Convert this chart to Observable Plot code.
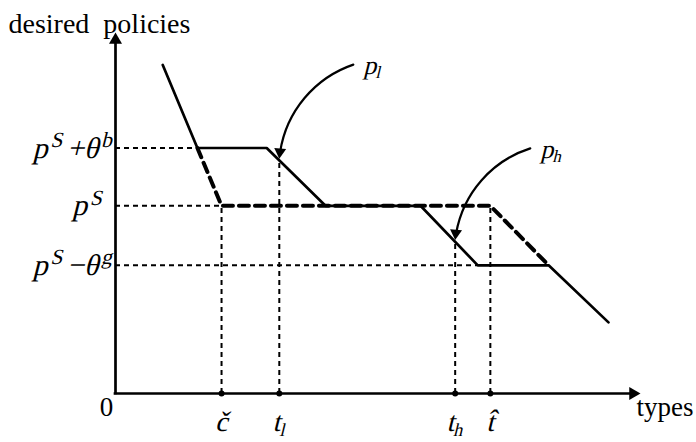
<!DOCTYPE html>
<html><head><meta charset="utf-8">
<script src="https://cdn.jsdelivr.net/npm/d3@7"></script>
<script src="https://cdn.jsdelivr.net/npm/@observablehq/plot@0.6"></script>
<style>body{margin:0;background:#fff} #chart svg{display:block;overflow:visible}</style>
</head><body><div id="chart"></div>
<script>
// policy schedule p_l (solid) and the dashed p_h portion
const solidX = [0.9, 1.56, 2.88, 4.0, 5.81, 6.9, 8.25, 9.39];
const solidY = [9.1, 6.8, 6.8, 5.2, 5.2, 3.55, 3.55, 1.97];
const dashedX = [1.56, 2.02, 7.14, 8.25];
const dashedY = [6.8, 5.2, 5.2, 3.55];
// policy levels on the vertical axis
const levelY = [6.8, 5.2, 3.55];
const levelLabels = ["p^{S} +θ^{b}", "p^{S}", "p^{S} −θ^{g}"];
const levelEndX = [1.56, 2.02, 6.9];
// type thresholds on the horizontal axis
const tickX = [2.02, 3.12, 6.47, 7.14];
const tickTopY = [5.2, 6.46, 4.2, 5.2];
const tickLabels = ["č", "t_{l}", "t_{h}", "t̂"];
// curved pointers naming the schedules
const arrowLabels = ["p_{l}", "p_{h}"];
const arrowStartX = [4.53, 7.9];
const arrowStartY = [9.11, 6.79];
const arrowEndX = [3.12, 6.47];
const arrowEndY = [6.5, 4.25];
const axisMax = 10;

const solid = solidX.map((x, i) => ({x, y: solidY[i]}));
const dashed = dashedX.map((x, i) => ({x, y: dashedY[i]}));
const levels = levelY.map((y, i) => ({y, x2: levelEndX[i], label: levelLabels[i]}));
const ticks = tickX.map((x, i) => ({x, top: tickTopY[i], label: tickLabels[i]}));
const arrows = arrowLabels.map((label, i) => ({label, x1: arrowStartX[i], y1: arrowStartY[i], x2: arrowEndX[i], y2: arrowEndY[i]}));

const serif = "Liberation Serif";

const plot = Plot.plot({
  width: 696, height: 442,
  marginLeft: 115, marginRight: 56, marginTop: 32, marginBottom: 49,
  x: {domain: [0, axisMax], axis: null},
  y: {domain: [0, axisMax], axis: null},
  style: {fontFamily: serif, background: "white", color: "black"},
  marks: [
    // guides
    Plot.ruleY(levels, {y: "y", x1: 0, x2: "x2", stroke: "black", strokeWidth: 2, strokeDasharray: "5,4"}),
    Plot.ruleX(ticks, {x: "x", y1: 0, y2: "top", stroke: "black", strokeWidth: 2, strokeDasharray: "5,4"}),
    // axes
    Plot.ruleX([0], {y1: 0, y2: axisMax - 0.2, stroke: "black", strokeWidth: 2.7, strokeLinecap: "square"}),
    Plot.ruleY([0], {x1: 0, x2: axisMax - 0.2, stroke: "black", strokeWidth: 2.7, strokeLinecap: "square"}),
    Plot.dot([0], {x: 0, y: axisMax, symbol: "triangle", r: 4.83, fill: "black", dy: 7.5}),
    Plot.dot([0], {x: axisMax, y: 0, symbol: "triangle", r: 4.83, fill: "black", rotate: 90, dx: -7.5}),
    // schedules
    Plot.line(solid, {x: "x", y: "y", stroke: "black", strokeWidth: 2.7, curve: "linear"}),
    Plot.line(dashed, {x: "x", y: "y", stroke: "black", strokeWidth: 4, strokeDasharray: "10,6", curve: "linear"}),
    Plot.dot(ticks, {x: "x", y: 0, r: 3, fill: "black"}),
    // pointers
    Plot.arrow(arrows, {x1: "x1", y1: "y1", x2: "x2", y2: "y2", bend: -33, headLength: 0, insetEnd: 7, stroke: "black", strokeWidth: 2.2}),
    Plot.dot(arrows, {x: "x2", y: "y2", symbol: "triangle", r: 4.45, rotate: 185, fill: "black", dx: 0.6, dy: -6.9}),
    Plot.text(arrows, {x: "x1", y: "y1", text: "label", textAnchor: "start", dx: 12, dy: 1, fontSize: 26}),
    // labels
    Plot.text(levels.filter((d, i) => i !== 1), {x: 0, y: "y", text: "label", textAnchor: "end", dx: -4, fontSize: 30}),
    Plot.text(levels.filter((d, i) => i === 1), {x: 0, y: "y", text: "label", textAnchor: "end", dx: -14, fontSize: 30}),
    Plot.text(ticks, {x: "x", y: 0, text: "label", textAnchor: "middle", dx: 2, dy: 29, fontSize: 28}),
    Plot.text(["desired\u00a0 policies"], {frameAnchor: "top-left", textAnchor: "start", dx: -107, dy: -19, fontSize: 28}),
    Plot.text(["types"], {frameAnchor: "bottom-right", textAnchor: "start", dx: -4, dy: 22, fontSize: 27}),
    Plot.text(["0"], {frameAnchor: "bottom-left", textAnchor: "middle", dx: -9, dy: 22, fontSize: 27})
  ]
});
document.getElementById("chart").append(plot);

// math labels: slant them (oblique) and render ^{..} / _{..} as super/subscripts
const svgNS = "http://www.w3.org/2000/svg";
const mathLabels = new Set([...levelLabels, ...tickLabels, ...arrowLabels]);
plot.querySelectorAll("text").forEach(el => {
  const s = el.textContent;
  if (!mathLabels.has(s)) return;
  const tr = el.getAttribute("transform") || "";
  el.setAttribute("transform", (tr + " skewX(-14)").trim());
  if (!/[\^_]\{/.test(s)) return;
  const base = parseFloat(getComputedStyle(el).fontSize);
  const parts = s.split(/([\^_]\{[^}]*\})/).filter(p => p.length);
  el.textContent = "";
  let shift = 0;
  for (const p of parts) {
    let target = 0, txt = p, size = null;
    if (p[0] === "^" && p[1] === "{") { target = -0.35 * base; txt = p.slice(2, -1); size = 0.72 * base; }
    else if (p[0] === "_" && p[1] === "{") { target = 0.16 * base; txt = p.slice(2, -1); size = 0.66 * base; }
    const t = document.createElementNS(svgNS, "tspan");
    if (target - shift) t.setAttribute("dy", target - shift);
    shift = target;
    if (size) t.setAttribute("font-size", size);
    t.textContent = txt;
    el.appendChild(t);
  }
});
</script>
</body></html>
